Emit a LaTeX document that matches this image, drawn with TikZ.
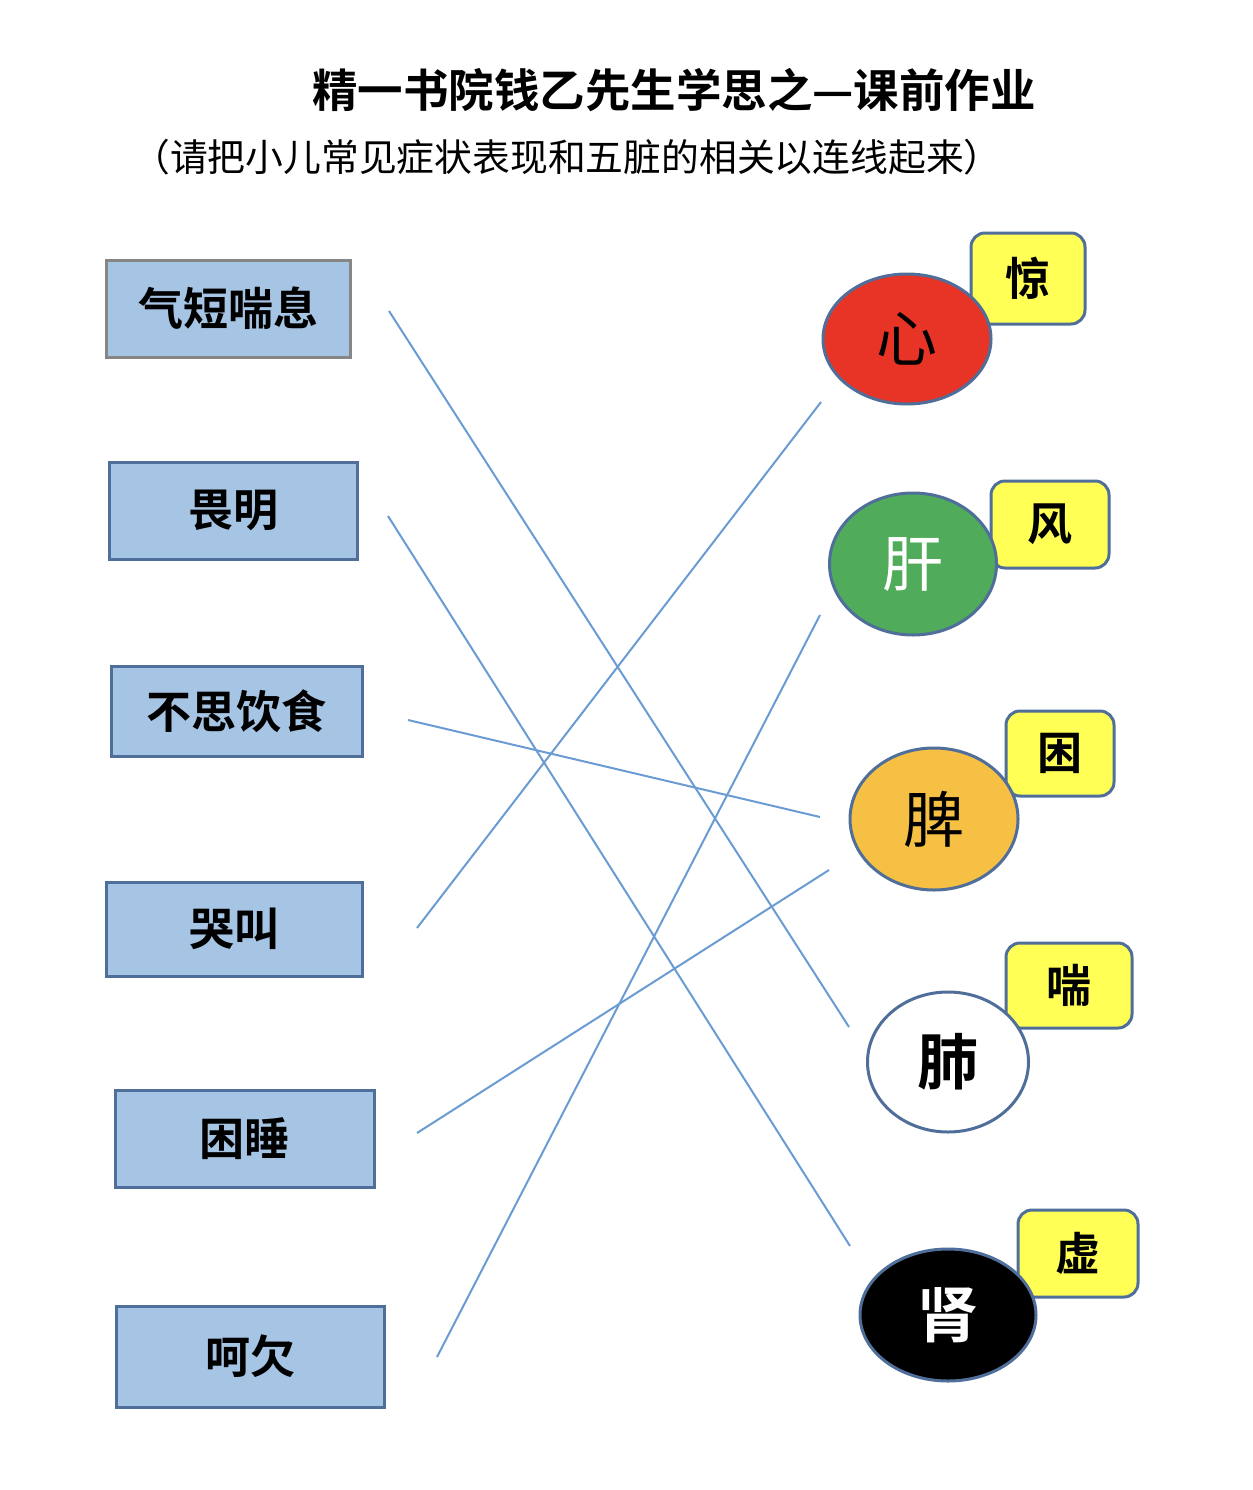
\documentclass[tikz,border=0pt]{standalone}
\usepackage{fontspec}
\newfontfamily\cjk{Noto Sans CJK SC}[BoldFont={Noto Sans CJK SC Bold}]
\definecolor{boxfill}{RGB}{166,196,227}
\definecolor{edgeblue}{RGB}{79,110,154}
\definecolor{linkblue}{RGB}{106,155,210}
\definecolor{heartred}{RGB}{232,52,38}
\definecolor{livergreen}{RGB}{80,172,90}
\definecolor{spleenorange}{RGB}{245,192,67}
\definecolor{noteyellow}{RGB}{255,255,85}
\begin{document}
\begin{tikzpicture}[x=1pt,y=-1pt,
  symbox/.style={draw=edgeblue,line width=3pt,fill=boxfill,font=\cjk\bfseries\fontsize{45}{50}\selectfont},
  organ/.style={ellipse,draw=edgeblue,line width=3pt,inner sep=0pt,font=\cjk\fontsize{61}{66}\selectfont},
  note/.style={draw=edgeblue,line width=3pt,fill=noteyellow,rounded corners=14pt,font=\cjk\bfseries\fontsize{45}{50}\selectfont},
  link/.style={draw=linkblue,line width=2pt}]
\usetikzlibrary{shapes.geometric}
\useasboundingbox (0,0) rectangle (1252,1490);
% title
\node[font=\cjk\bfseries\fontsize{45.5}{50}\selectfont] (title) at (674,90) {精一书院钱乙先生学思之—课前作业};
\node[font=\cjk\fontsize{37.8}{42}\selectfont] (sub) at (567,157) {（请把小儿常见症状表现和五脏的相关以连线起来）};
% left boxes
\node[symbox,draw=gray!95,minimum width=244pt,minimum height=97pt] (b1) at (228,308.5) {气短喘息};
\node[symbox,minimum width=248pt,minimum height=97pt] (b2) at (233,510.5) {畏明};
\node[symbox,minimum width=251pt,minimum height=90pt] (b3) at (236.5,711) {不思饮食};
\node[symbox,minimum width=256pt,minimum height=94pt] (b4) at (234,929) {哭叫};
\node[symbox,minimum width=259pt,minimum height=97pt] (b5) at (244.5,1138.5) {困睡};
\node[symbox,minimum width=268pt,minimum height=101pt] (b6) at (250,1356.5) {呵欠};
% yellow notes
\node[note,minimum width=114pt,minimum height=91pt] (n1) at (1028,278.5) {惊};
\node[note,minimum width=118pt,minimum height=87pt] (n2) at (1050,524.5) {风};
\node[note,minimum width=108pt,minimum height=85pt] (n3) at (1060,753.5) {困};
\node[note,minimum width=126pt,minimum height=85pt] (n4) at (1069,985.5) {喘};
\node[note,minimum width=120pt,minimum height=87pt] (n5) at (1078,1253.5) {虚};
% organs
\node[organ,fill=heartred,minimum width=168pt,minimum height=130pt] (o1) at (907,339) {心};
\node[organ,fill=livergreen,text=white,minimum width=167pt,minimum height=142pt] (o2) at (913,564) {肝};
\node[organ,fill=spleenorange,minimum width=168pt,minimum height=142pt] (o3) at (934,819) {脾};
\node[organ,fill=white,font=\cjk\bfseries\fontsize{61}{66}\selectfont,minimum width=161pt,minimum height=140pt] (o4) at (948,1062) {肺};
\node[organ,fill=black,text=white,font=\cjk\bfseries\fontsize{61}{66}\selectfont,minimum width=176pt,minimum height=132pt] (o5) at (948,1315) {肾};
% connector ends
\coordinate (s1) at (389,311);  \coordinate (e1) at (849,1027);
\coordinate (s2) at (388,516);  \coordinate (e2) at (850,1246);
\coordinate (s3) at (408,720);  \coordinate (e3) at (820,817);
\coordinate (s4) at (417,928);  \coordinate (e4) at (821,402);
\coordinate (s5) at (417,1133); \coordinate (e5) at (829,870);
\coordinate (s6) at (437,1357); \coordinate (e6) at (820,615);
\draw[link] (s1) -- (e1);
\draw[link] (s2) -- (e2);
\draw[link] (s3) -- (e3);
\draw[link] (s4) -- (e4);
\draw[link] (s5) -- (e5);
\draw[link] (s6) -- (e6);
\end{tikzpicture}
\end{document}
